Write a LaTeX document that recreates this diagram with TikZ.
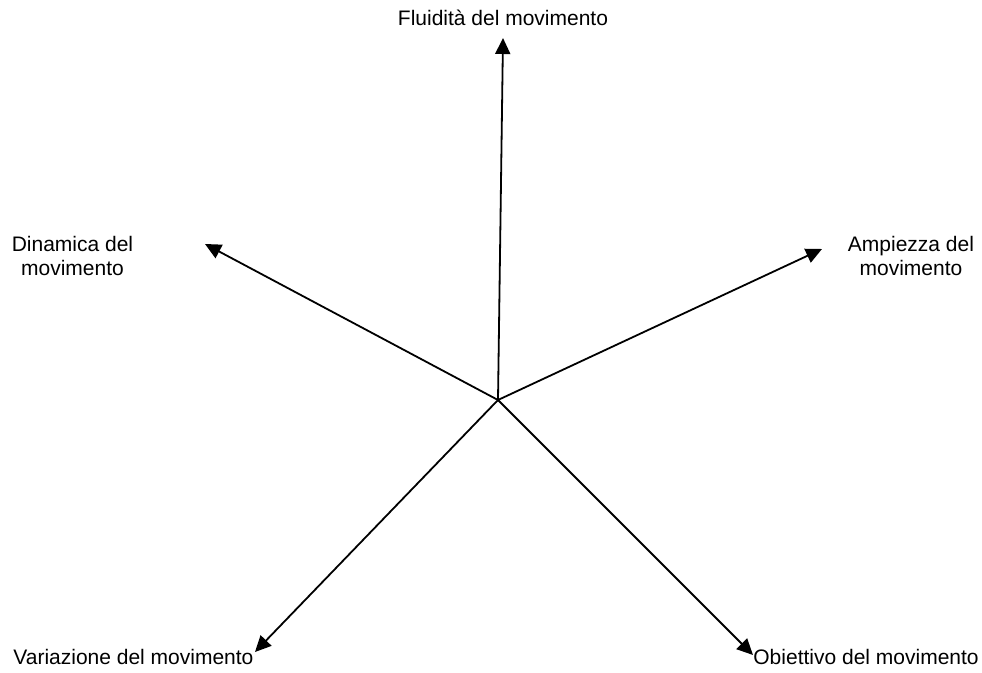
\documentclass[tikz,border=0pt]{standalone}
\usepackage{fontspec}
\setmainfont{Liberation Sans}
\usetikzlibrary{arrows.meta,positioning}

\begin{document}
\begin{tikzpicture}[x=0.5pt,y=-0.5pt,font=\fontsize{10.5}{12}\selectfont,
    lbl/.style={inner sep=0pt,align=center},
    arr/.style={line width=0.9pt,-{Triangle[length=8pt,width=7.5pt]}}]
        \useasboundingbox (0,0) rectangle (982,673);
        \coordinate (c) at (498,400);
        % arrow tips
        \coordinate (tf) at (503,38);
        \coordinate (td) at (205,244);
        \coordinate (ta) at (822,249);
        \coordinate (tv) at (255,652);
        \coordinate (to) at (753,655);
        % labels
        \node[lbl,anchor=base] (fl) at (503,26) {Fluidità del movimento};
        \node[lbl,anchor=base] (di) at (72.5,276) {Dinamica del\\movimento};
        \node[lbl,anchor=base] (am) at (911,276) {Ampiezza del\\movimento};
        \node[lbl,anchor=base west] (va) at (13,665) {Variazione del movimento};
        \node[lbl,anchor=base west] (ob) at (753,665) {Obiettivo del movimento};
        \draw[arr] (c)--(tf); \draw[arr] (c)--(td); \draw[arr] (c)--(ta);
        \draw[arr] (c)--(tv); \draw[arr] (c)--(to);
      \end{tikzpicture}
\end{document}
